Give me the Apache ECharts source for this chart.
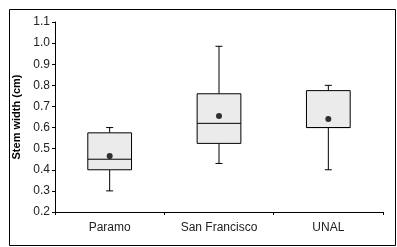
<!DOCTYPE html>
<html>
<head>
<meta charset="utf-8">
<script src="https://cdn.jsdelivr.net/npm/echarts@6/dist/echarts.min.js"></script>
<style>
  html, body { margin: 0; padding: 0; background: #fff; }
  #chart { width: 397px; height: 247px; }
</style>
</head>
<body>
<div id="chart"></div>
<script>
// stem width by site (cm)
const categories = ['Paramo', 'San Francisco', 'UNAL'];
const whiskerLow = [0.30, 0.43, 0.40];
const q1 = [0.40, 0.525, 0.60];
const median = [0.45, 0.62, 0.60];
const q3 = [0.575, 0.76, 0.775];
const whiskerHigh = [0.60, 0.985, 0.80];
const means = [0.465, 0.655, 0.64];
const yTicks = [0.2, 0.3, 0.4, 0.5, 0.6, 0.7, 0.8, 0.9, 1.0, 1.1];

const font = '"Liberation Sans Narrow", "Arial Narrow", "Liberation Sans", sans-serif';

const chart = echarts.init(document.getElementById('chart'), null, { renderer: 'canvas' });

const boxData = categories.map((c, i) => [i, whiskerLow[i], q1[i], median[i], q3[i], whiskerHigh[i]]);

function renderBox(params, api) {
  const i = api.value(0);
  const lo = api.coord([i, api.value(1)]);
  const b1 = api.coord([i, api.value(2)]);
  const md = api.coord([i, api.value(3)]);
  const b3 = api.coord([i, api.value(4)]);
  const hi = api.coord([i, api.value(5)]);
  const w = api.size([1, 0])[0] * 0.4;
  const cap = 7;
  const x = lo[0];
  const line = { stroke: '#000', lineWidth: 1 };
  return {
    type: 'group',
    children: [
      { type: 'line', shape: { x1: x, y1: hi[1], x2: x, y2: b3[1] }, style: line },
      { type: 'line', shape: { x1: x, y1: b1[1], x2: x, y2: lo[1] }, style: line },
      { type: 'line', shape: { x1: x - cap / 2, y1: hi[1], x2: x + cap / 2, y2: hi[1] }, style: line },
      { type: 'line', shape: { x1: x - cap / 2, y1: lo[1], x2: x + cap / 2, y2: lo[1] }, style: line },
      { type: 'rect', shape: { x: x - w / 2, y: b3[1], width: w, height: b1[1] - b3[1] },
        style: { fill: '#ebebeb', stroke: '#000', lineWidth: 1 } },
      { type: 'line', shape: { x1: x - w / 2, y1: md[1], x2: x + w / 2, y2: md[1] }, style: line }
    ]
  };
}

chart.setOption({
  backgroundColor: '#fff',
  animation: false,
  graphic: [{
    type: 'rect', left: 7, top: 7,
    shape: { width: 386, height: 236 },
    style: { fill: null, stroke: '#000', lineWidth: 1 }, silent: true
  }],
  grid: { left: 55, right: 14, top: 22, bottom: 35 },
  xAxis: {
    type: 'category',
    data: categories,
    boundaryGap: true,
    axisLine: { lineStyle: { color: '#000', width: 1 } },
    axisTick: { show: true, length: 3, lineStyle: { color: '#000' } },
    axisLabel: { color: '#222', fontFamily: font, fontSize: 12, margin: 10 },
    splitLine: { show: false }
  },
  yAxis: {
    type: 'value',
    min: 0.2, max: 1.1, interval: 0.1,
    name: 'Stem width (cm)',
    nameLocation: 'middle',
    nameGap: 29,
    nameTextStyle: { fontFamily: font, fontSize: 11, fontWeight: 'bold', color: '#000' },
    axisLine: { show: true, lineStyle: { color: '#000', width: 1 } },
    axisTick: { show: true, length: 3, lineStyle: { color: '#000' } },
    axisLabel: {
      color: '#222', fontFamily: font, fontSize: 12, margin: 5,
      formatter: v => yTicks.find(t => Math.abs(t - v) < 1e-6).toFixed(1)
    },
    splitLine: { show: false }
  },
  series: [
    {
      type: 'custom',
      renderItem: renderBox,
      data: boxData,
      encode: { x: 0, y: [1, 2, 3, 4, 5] },
      z: 2
    },
    {
      type: 'scatter',
      data: means.map((m, i) => [i, m]),
      symbol: 'circle',
      symbolSize: 6,
      itemStyle: { color: '#000' },
      z: 3
    }
  ]
});
</script>
</body>
</html>
